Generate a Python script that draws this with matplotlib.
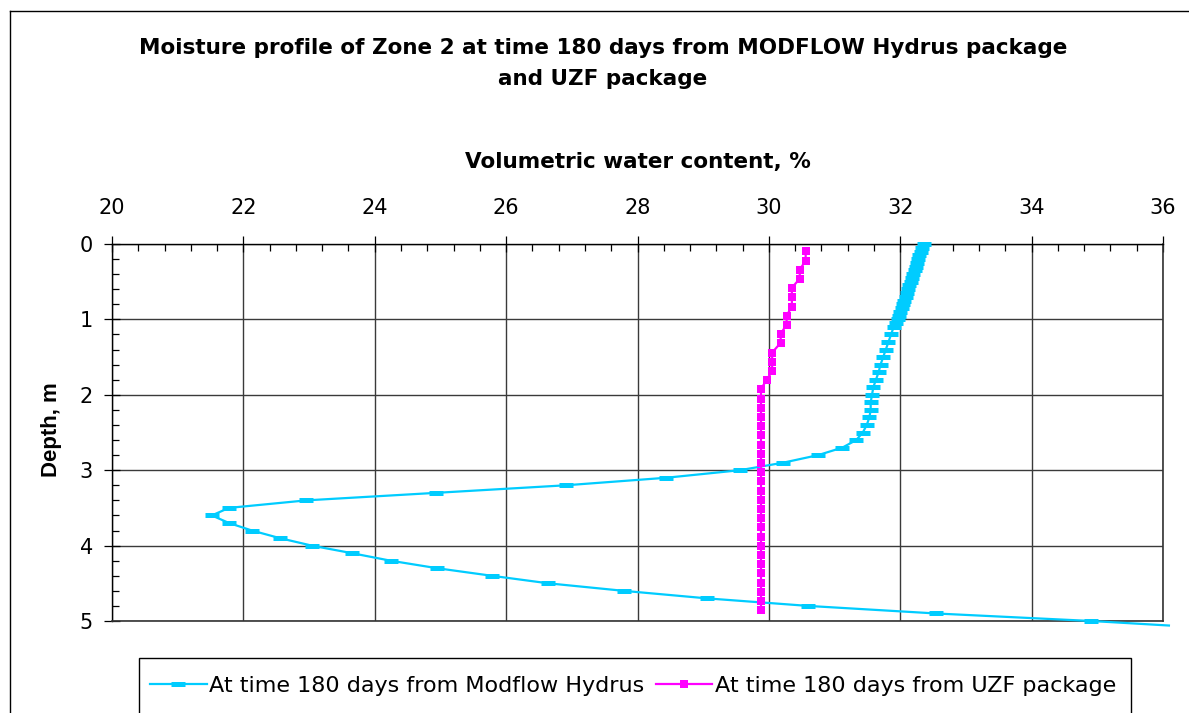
import matplotlib
matplotlib.use("Agg")
import matplotlib.pyplot as plt
from matplotlib.lines import Line2D
from matplotlib.patches import Rectangle
from matplotlib.ticker import MultipleLocator

plt.rcParams['font.family'] = ['DejaVu Sans']

# ---------------- data ----------------
hydrus_depth = [0.00, 0.05, 0.10, 0.15, 0.20, 0.25, 0.30, 0.35, 0.40, 0.45,
                0.50, 0.55, 0.60, 0.65, 0.70, 0.75, 0.80, 0.85, 0.90, 0.95,
                1.00, 1.05, 1.10, 1.20, 1.30, 1.40, 1.50, 1.60, 1.70, 1.80,
                1.90, 2.00, 2.10, 2.20, 2.30, 2.40, 2.50, 2.60, 2.70, 2.80,
                2.90, 3.00, 3.10, 3.20, 3.30, 3.40, 3.50, 3.60, 3.70, 3.80,
                3.90, 4.00, 4.10, 4.20, 4.30, 4.40, 4.50, 4.60, 4.70, 4.80,
                4.90, 5.00, 5.06]
hydrus_theta = [32.36, 32.33, 32.31, 32.29, 32.27, 32.26, 32.24, 32.22, 32.20, 32.18,
                32.16, 32.14, 32.12, 32.10, 32.08, 32.06, 32.04, 32.02, 32.00, 31.98,
                31.96, 31.93, 31.90, 31.86, 31.82, 31.78, 31.74, 31.70, 31.67, 31.63,
                31.59, 31.57, 31.55, 31.55, 31.53, 31.49, 31.43, 31.33, 31.12, 30.75,
                30.22, 29.56, 28.44, 26.91, 24.94, 22.96, 21.78, 21.52, 21.78, 22.13,
                22.55, 23.04, 23.65, 24.24, 24.95, 25.78, 26.64, 27.79, 29.06, 30.60,
                32.54, 34.91, 36.09]

uzf_depth = [0.09, 0.22, 0.34, 0.46, 0.58, 0.70, 0.83, 0.95, 1.07, 1.19,
             1.31, 1.44, 1.56, 1.68, 1.80, 1.92, 2.05, 2.17, 2.29, 2.41,
             2.53, 2.66, 2.78, 2.90, 3.02, 3.14, 3.27, 3.39, 3.51, 3.63,
             3.75, 3.88, 4.00, 4.12, 4.24, 4.36, 4.49, 4.61, 4.73, 4.85]
uzf_theta = [30.56, 30.56, 30.47, 30.47, 30.35, 30.35, 30.35, 30.27, 30.27, 30.18,
             30.18, 30.05, 30.05, 30.05, 29.97, 29.88, 29.88, 29.88, 29.88, 29.88,
             29.88, 29.88, 29.88, 29.88, 29.88, 29.88, 29.88, 29.88, 29.88, 29.88,
             29.88, 29.88, 29.88, 29.88, 29.88, 29.88, 29.88, 29.88, 29.88, 29.88]

x_ticks = [20, 22, 24, 26, 28, 30, 32, 34, 36]
y_ticks = [0, 1, 2, 3, 4, 5]

title_line1 = "Moisture profile of Zone 2 at time 180 days from MODFLOW Hydrus package"
title_line2 = "and UZF package"
xlabel = "Volumetric water content, %"
ylabel = "Depth, m"
legend_labels = ["At time 180 days from Modflow Hydrus", "At time 180 days from UZF package"]

# ---------------- figure ----------------
W, H = 1189, 713
fig = plt.figure(figsize=(W / 100, H / 100), dpi=100)
fig.patch.set_facecolor('white')

ax = fig.add_axes([112 / W, 1 - 621 / H, (1163 - 112) / W, (621 - 244) / H])
ax.set_xlim(20, 36)
ax.set_ylim(5, 0)

CYAN = '#00CCFF'
MAG = '#FF00FF'

n = len(hydrus_depth)
l1, = ax.plot(hydrus_theta, hydrus_depth, color=CYAN, lw=1.6, marker='_',
              markersize=9.5, markeredgewidth=3.6, markevery=list(range(n - 1)),
              clip_on=False, zorder=3)
l2, = ax.plot(uzf_theta, uzf_depth, color=MAG, lw=1.6, marker='s',
              markersize=5.3, markeredgewidth=0, zorder=4)

ax.xaxis.tick_top()
ax.set_xticks(x_ticks)
ax.set_yticks(y_ticks)
ax.xaxis.set_minor_locator(MultipleLocator(0.4))
ax.yaxis.set_minor_locator(MultipleLocator(0.2))
ax.tick_params(axis='both', which='major', direction='inout', length=11.5,
               width=0.9, color='black', labelsize=15)
ax.tick_params(axis='both', which='minor', direction='in', length=4.8,
               width=0.9, color='black')
ax.tick_params(axis='x', which='major', pad=13)
ax.tick_params(axis='y', which='major', pad=8)
ax.tick_params(axis='x', which='both', top=True, bottom=False)
ax.tick_params(axis='y', which='both', left=True, right=False)

ax.grid(True, which='major', color='#3a3a3a', lw=1.0)
ax.set_axisbelow(True)
for s in ['top', 'left']:
    ax.spines[s].set_color('black')
    ax.spines[s].set_linewidth(1.0)
for s in ['right', 'bottom']:
    ax.spines[s].set_color('#333333')
    ax.spines[s].set_linewidth(1.2)

# titles / labels
fig.text(603 / W, 1 - 54 / H, title_line1, ha='center', va='baseline',
         fontsize=15.5, fontweight='bold')
fig.text(603 / W, 1 - 85 / H, title_line2, ha='center', va='baseline',
         fontsize=15.5, fontweight='bold')
fig.text(638 / W, 1 - 168 / H, xlabel, ha='center', va='baseline',
         fontsize=15.5, fontweight='bold')
fig.text(52 / W, 1 - 430 / H, ylabel, ha='center', va='center', rotation=90,
         fontsize=16, fontweight='bold', family=['Liberation Sans', 'DejaVu Sans'])

# outer chart border (left and top visible)
fig.add_artist(Line2D([9.5 / W, 9.5 / W], [0, 1 - 11 / H], transform=fig.transFigure,
                      color='black', lw=1.0))
fig.add_artist(Line2D([9.5 / W, 1], [1 - 11 / H, 1 - 11 / H], transform=fig.transFigure,
                      color='black', lw=1.0))

# legend box (extends below the image edge, as in the reference)
fig.add_artist(Rectangle((139 / W, -10 / H), (1131 - 139) / W, (713 - 658 + 10) / H,
                         transform=fig.transFigure, facecolor='white',
                         edgecolor='black', lw=1.0, zorder=5))
leg = fig.legend([l1, l2], legend_labels, loc='center',
                 bbox_to_anchor=(633 / W, 1 - 686 / H), ncol=2, frameon=False,
                 fontsize=16, handlelength=2.55, handletextpad=0.12,
                 columnspacing=0.5, borderpad=0.0, borderaxespad=0)
leg.set_zorder(6)

fig.savefig('out.png', dpi=100, facecolor='white')
